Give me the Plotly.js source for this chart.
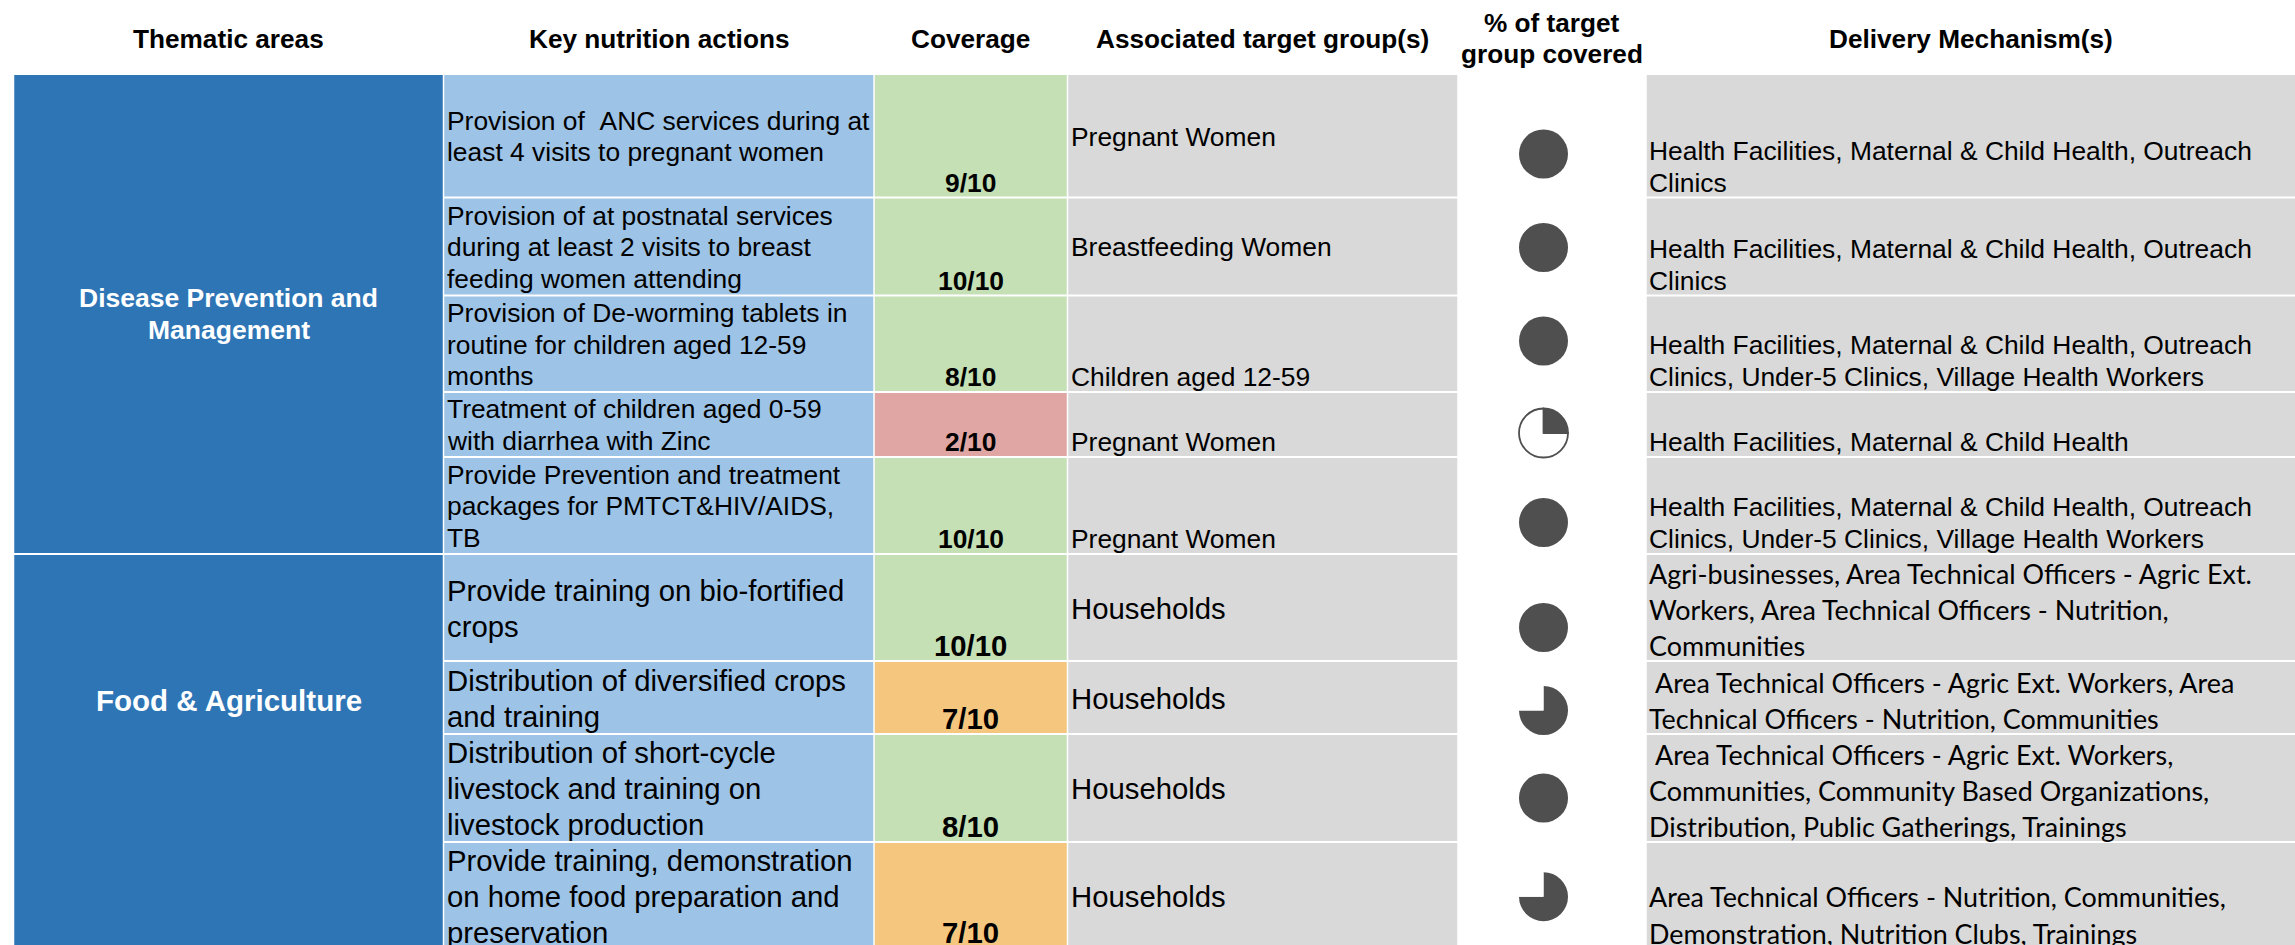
<!DOCTYPE html>
<html><head><meta charset="utf-8">
<script src="https://cdn.plot.ly/plotly-3.0.1.min.js"></script>
<style>html,body{margin:0;padding:0;background:#fff;overflow:hidden}#chart{width:2295px;height:945px;}</style>
</head><body><div id="chart"></div>
<script>
// ================= DATA =================
const headers = ["Thematic areas", "Key nutrition actions", "Coverage", "Associated target group(s)", "% of target<br>group covered", "Delivery Mechanism(s)"];
const thematicAreas = ["Disease Prevention and<br>Management", "Food & Agriculture"];
const thematicIndex = [0, 0, 0, 0, 0, 1, 1, 1, 1];
const nutritionActions = [
  "Provision of \u00a0ANC services during at<br>least 4 visits to pregnant women",
  "Provision of at postnatal services<br>during at least 2 visits to breast<br>feeding women attending",
  "Provision of De-worming tablets in<br>routine for children aged 12-59<br>months",
  "Treatment of children aged 0-59<br>with diarrhea with Zinc",
  "Provide Prevention and treatment<br>packages for PMTCT&HIV/AIDS,<br>TB",
  "Provide training on bio-fortified<br>crops",
  "Distribution of diversified crops<br>and training",
  "Distribution of short-cycle<br>livestock and training on<br>livestock production",
  "Provide training, demonstration<br>on home food preparation and<br>preservation"
];
const coverageScore = [9, 10, 8, 2, 10, 10, 7, 8, 7];
const coverageOutOf = 10;
const targetGroups = ["Pregnant Women", "Breastfeeding Women", "Children aged 12-59", "Pregnant Women", "Pregnant Women", "Households", "Households", "Households", "Households"];
const shareCovered = [1, 1, 1, 0.25, 1, 1, 0.75, 1, 0.75];
const deliveryMechanisms = [
  "Health Facilities, Maternal & Child Health, Outreach<br>Clinics",
  "Health Facilities, Maternal & Child Health, Outreach<br>Clinics",
  "Health Facilities, Maternal & Child Health, Outreach<br>Clinics, Under-5 Clinics, Village Health Workers",
  "Health Facilities, Maternal & Child Health",
  "Health Facilities, Maternal & Child Health, Outreach<br>Clinics, Under-5 Clinics, Village Health Workers",
  "Agri-businesses, Area Technical Officers - Agric Ext.<br>Workers, Area Technical Officers - Nutrition,<br>Communities",
  "\u00a0Area Technical Officers - Agric Ext. Workers, Area<br>Technical Officers - Nutrition, Communities",
  "\u00a0Area Technical Officers - Agric Ext. Workers,<br>Communities, Community Based Organizations,<br>Distribution, Public Gatherings, Trainings",
  "Area Technical Officers - Nutrition, Communities,<br>Demonstration, Nutrition Clubs, Trainings"
];

// ================= LAYOUT / STYLE =================
const W = 2295, H = 945;
const colEdges = [13.5, 443.5, 874, 1067.5, 1458, 1646, 2297];
const rowEdges = [74, 197.5, 295.5, 392, 457, 554, 661, 734, 842, 948.5];
const colGap = 1.5, rowGap = 2;
const C = {
  theme: '#2E75B6', action: '#9DC3E6', grey: '#D9D9D9',
  good: '#C5E0B4', mid: '#F5C77E', bad: '#DFA6A3', ball: '#4F4F4F'
};
const ARIAL = 'Liberation Sans, Arial, sans-serif';
const CALIBRI = 'Lato, Carlito, Calibri, sans-serif';
// per thematic group style
const groupStyle = [
  {fs: 26.4, ls: 31.8, bfs: 26.4, dfont: ARIAL, dfs: 26.4, dls: 32, themeFs: 26.5, botOff: 13.6, dOff: 14},
  {fs: 29.3, ls: 36, bfs: 29.3, dfont: CALIBRI, dfs: 26.9, dls: 36.2, themeFs: 29.5, botOff: 15, dOff: 14.5}
];
const assocVAlign = ['middle', 'middle', 'bottom', 'bottom', 'bottom', 'middle', 'middle', 'middle', 'middle'];
const themeLabelShift = [0, -51.25];
const ballOffsetY = [18.25, 1, -2.75, 8.5, 17, 20, 13, 10, 1.45];
const ballDiameter = 49;
const ballX = 1543.5;

function coverageColor(v) {
  const r = v / coverageOutOf;
  return r >= 0.8 ? C.good : (r >= 0.5 ? C.mid : C.bad);
}

const nRows = coverageScore.length;
const rowTop = i => rowEdges[i] + rowGap / 2;
const rowBot = i => rowEdges[i + 1] - rowGap / 2;
const rowMid = i => (rowEdges[i] + rowEdges[i + 1]) / 2;
const colL = c => colEdges[c] + colGap / 2;
const colR = c => Math.min(colEdges[c + 1] - colGap / 2, W);

function columnTrace(c, colors) {
  const idx = [...Array(nRows).keys()];
  return {
    type: 'bar', orientation: 'h',
    y: idx.map(rowMid),
    x: idx.map(() => colR(c) - colL(c)),
    base: idx.map(() => colL(c)),
    width: idx.map(i => rowBot(i) - rowTop(i)),
    marker: {color: colors, line: {width: 0}},
    hoverinfo: 'skip', showlegend: false
  };
}

const traces = [];
// thematic (merged) cells
const gFirst = thematicAreas.map((_, g) => thematicIndex.indexOf(g));
const gLast = thematicAreas.map((_, g) => thematicIndex.lastIndexOf(g));
traces.push({
  type: 'bar', orientation: 'h',
  y: thematicAreas.map((_, g) => (rowEdges[gFirst[g]] + rowEdges[gLast[g] + 1]) / 2),
  x: thematicAreas.map(() => colR(0) - colL(0)),
  base: thematicAreas.map(() => colL(0)),
  width: thematicAreas.map((_, g) => rowBot(gLast[g]) - rowTop(gFirst[g])),
  marker: {color: C.theme, line: {width: 0}},
  hoverinfo: 'skip', showlegend: false
});
traces.push(columnTrace(1, nutritionActions.map(() => C.action)));
traces.push(columnTrace(2, coverageScore.map(coverageColor)));
traces.push(columnTrace(3, targetGroups.map(() => C.grey)));
traces.push(columnTrace(5, deliveryMechanisms.map(() => C.grey)));

// Harvey balls as pies
shareCovered.forEach((p, i) => {
  const cy = rowMid(i) + ballOffsetY[i];
  const r = ballDiameter / 2;
  const outlined = p < 0.5;
  traces.push({
    type: 'pie', values: [p, 1 - p], sort: false, direction: 'clockwise', rotation: 0,
    domain: {x: [(ballX - r) / W, (ballX + r) / W], y: [1 - (cy + r) / H, 1 - (cy - r) / H]},
    marker: {colors: [C.ball, '#FFFFFF'], line: {color: C.ball, width: outlined ? [1.8, 1.8] : [0, 0]}},
    textinfo: 'none', hoverinfo: 'none', showlegend: false
  });
});

// ================= TEXT =================
const ann = [];
function lines(text, x, xanchor, yFirst, ls, font) {
  text.split('<br>').forEach((t, k) => {
    ann.push({x: x, y: yFirst + k * ls, xref: 'x', yref: 'y', text: t, showarrow: false,
      xanchor: xanchor, yanchor: 'middle', align: xanchor === 'center' ? 'center' : 'left', font: font});
  });
}
const nl = t => t.split('<br>').length;

// headers
const headX = [0, 1, 2, 3, 4, 5].map(c => (colEdges[c] + Math.min(colEdges[c + 1], W)) / 2);
headers.forEach((h, c) => {
  const n = nl(h);
  lines(h, headX[c], 'center', 38.5 - (n - 1) * 31.5 / 2, 31.5, {family: ARIAL, size: 26.2, color: '#000', weight: 'bold'});
});

// thematic labels
thematicAreas.forEach((t, g) => {
  const st = groupStyle[g];
  const cy = (rowEdges[gFirst[g]] + rowEdges[gLast[g] + 1]) / 2 + themeLabelShift[g];
  const n = nl(t);
  lines(t, headX[0], 'center', cy - (n - 1) * 32 / 2, 32, {family: ARIAL, size: st.themeFs, color: '#FFFFFF', weight: 'bold'});
});

for (let i = 0; i < nRows; i++) {
  const st = groupStyle[thematicIndex[i]];
  // key actions: vertically centred
  let n = nl(nutritionActions[i]);
  lines(nutritionActions[i], colL(1) + 0.5, 'left', rowMid(i) + 0.8 - (n - 1) * st.ls / 2, st.ls, {family: ARIAL, size: st.fs, color: '#000'});
  // coverage: bottom
  lines(coverageScore[i] + '/' + coverageOutOf, (colEdges[2] + colEdges[3]) / 2, 'center', rowBot(i) - st.botOff, st.ls,
    {family: ARIAL, size: st.bfs, color: '#000', weight: 'bold'});
  // target group
  const yT = assocVAlign[i] === 'middle' ? rowMid(i) + 0.8 : rowBot(i) - st.botOff;
  lines(targetGroups[i], colL(3) + 0.5, 'left', yT, st.ls, {family: ARIAL, size: st.fs, color: '#000'});
  // delivery: bottom aligned
  n = nl(deliveryMechanisms[i]);
  lines(deliveryMechanisms[i], colL(5), 'left', rowBot(i) - st.dOff - (n - 1) * st.dls, st.dls, {family: st.dfont, size: st.dfs, color: '#000'});
}

const layout = {
  width: W, height: H,
  margin: {l: 0, r: 0, t: 0, b: 0, pad: 0},
  paper_bgcolor: '#FFFFFF', plot_bgcolor: '#FFFFFF',
  barmode: 'overlay',
  xaxis: {range: [0, W], visible: false, fixedrange: true},
  yaxis: {range: [H, 0], visible: false, fixedrange: true},
  showlegend: false, hovermode: false,
  annotations: ann
};
Plotly.newPlot('chart', traces, layout, {staticPlot: true, displayModeBar: false});
</script>
</body></html>
